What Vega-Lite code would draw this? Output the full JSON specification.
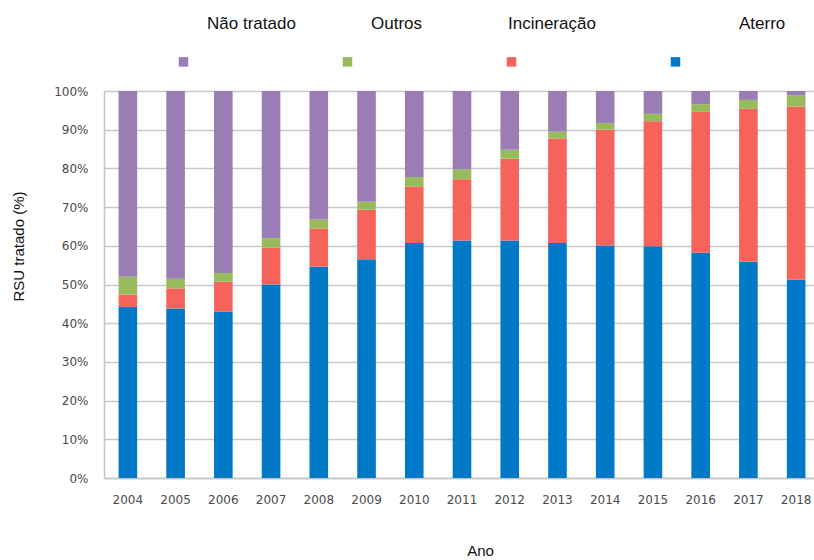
{
  "$schema": "https://vega.github.io/schema/vega-lite/v6.json",
  "autosize": {"type": "none"},
  "padding": {"left": 104, "top": 91, "right": 0, "bottom": 82},
  "width": 710,
  "height": 387,
  "background": "white",
  "config": {"view": {"stroke": null}, "font": "Liberation Sans"},
  "data": {"values": [
    {"ano": "2004", "tipo": "Aterro", "o": 1, "v": 44.2},
    {"ano": "2004", "tipo": "Incineração", "o": 2, "v": 3.2},
    {"ano": "2004", "tipo": "Outros", "o": 3, "v": 4.6},
    {"ano": "2004", "tipo": "Não tratado", "o": 4, "v": 48.0},
    {"ano": "2005", "tipo": "Aterro", "o": 1, "v": 43.8},
    {"ano": "2005", "tipo": "Incineração", "o": 2, "v": 5.2},
    {"ano": "2005", "tipo": "Outros", "o": 3, "v": 2.5},
    {"ano": "2005", "tipo": "Não tratado", "o": 4, "v": 48.5},
    {"ano": "2006", "tipo": "Aterro", "o": 1, "v": 43.0},
    {"ano": "2006", "tipo": "Incineração", "o": 2, "v": 7.7},
    {"ano": "2006", "tipo": "Outros", "o": 3, "v": 2.3},
    {"ano": "2006", "tipo": "Não tratado", "o": 4, "v": 47.0},
    {"ano": "2007", "tipo": "Aterro", "o": 1, "v": 50.0},
    {"ano": "2007", "tipo": "Incineração", "o": 2, "v": 9.5},
    {"ano": "2007", "tipo": "Outros", "o": 3, "v": 2.5},
    {"ano": "2007", "tipo": "Não tratado", "o": 4, "v": 38.0},
    {"ano": "2008", "tipo": "Aterro", "o": 1, "v": 54.6},
    {"ano": "2008", "tipo": "Incineração", "o": 2, "v": 9.9},
    {"ano": "2008", "tipo": "Outros", "o": 3, "v": 2.3},
    {"ano": "2008", "tipo": "Não tratado", "o": 4, "v": 33.2},
    {"ano": "2009", "tipo": "Aterro", "o": 1, "v": 56.5},
    {"ano": "2009", "tipo": "Incineração", "o": 2, "v": 12.8},
    {"ano": "2009", "tipo": "Outros", "o": 3, "v": 2.1},
    {"ano": "2009", "tipo": "Não tratado", "o": 4, "v": 28.6},
    {"ano": "2010", "tipo": "Aterro", "o": 1, "v": 60.7},
    {"ano": "2010", "tipo": "Incineração", "o": 2, "v": 14.6},
    {"ano": "2010", "tipo": "Outros", "o": 3, "v": 2.5},
    {"ano": "2010", "tipo": "Não tratado", "o": 4, "v": 22.2},
    {"ano": "2011", "tipo": "Aterro", "o": 1, "v": 61.4},
    {"ano": "2011", "tipo": "Incineração", "o": 2, "v": 15.8},
    {"ano": "2011", "tipo": "Outros", "o": 3, "v": 2.6},
    {"ano": "2011", "tipo": "Não tratado", "o": 4, "v": 20.2},
    {"ano": "2012", "tipo": "Aterro", "o": 1, "v": 61.4},
    {"ano": "2012", "tipo": "Incineração", "o": 2, "v": 21.1},
    {"ano": "2012", "tipo": "Outros", "o": 3, "v": 2.3},
    {"ano": "2012", "tipo": "Não tratado", "o": 4, "v": 15.2},
    {"ano": "2013", "tipo": "Aterro", "o": 1, "v": 60.7},
    {"ano": "2013", "tipo": "Incineração", "o": 2, "v": 27.0},
    {"ano": "2013", "tipo": "Outros", "o": 3, "v": 1.8},
    {"ano": "2013", "tipo": "Não tratado", "o": 4, "v": 10.5},
    {"ano": "2014", "tipo": "Aterro", "o": 1, "v": 60.1},
    {"ano": "2014", "tipo": "Incineração", "o": 2, "v": 29.9},
    {"ano": "2014", "tipo": "Outros", "o": 3, "v": 1.7},
    {"ano": "2014", "tipo": "Não tratado", "o": 4, "v": 8.3},
    {"ano": "2015", "tipo": "Aterro", "o": 1, "v": 59.9},
    {"ano": "2015", "tipo": "Incineração", "o": 2, "v": 32.3},
    {"ano": "2015", "tipo": "Outros", "o": 3, "v": 1.9},
    {"ano": "2015", "tipo": "Não tratado", "o": 4, "v": 5.9},
    {"ano": "2016", "tipo": "Aterro", "o": 1, "v": 58.2},
    {"ano": "2016", "tipo": "Incineração", "o": 2, "v": 36.4},
    {"ano": "2016", "tipo": "Outros", "o": 3, "v": 2.0},
    {"ano": "2016", "tipo": "Não tratado", "o": 4, "v": 3.4},
    {"ano": "2017", "tipo": "Aterro", "o": 1, "v": 55.9},
    {"ano": "2017", "tipo": "Incineração", "o": 2, "v": 39.5},
    {"ano": "2017", "tipo": "Outros", "o": 3, "v": 2.3},
    {"ano": "2017", "tipo": "Não tratado", "o": 4, "v": 2.3},
    {"ano": "2018", "tipo": "Aterro", "o": 1, "v": 51.2},
    {"ano": "2018", "tipo": "Incineração", "o": 2, "v": 44.8},
    {"ano": "2018", "tipo": "Outros", "o": 3, "v": 2.9},
    {"ano": "2018", "tipo": "Não tratado", "o": 4, "v": 1.1}
  ]},
  "mark": {"type": "bar"},
  "encoding": {
    "x": {
      "field": "ano", "type": "ordinal",
      "scale": {"range": [0, 716], "paddingInner": 0.61, "paddingOuter": 0.305},
      "axis": {
        "title": "Ano", "labelAngle": 0, "ticks": false, "grid": false,
        "domainColor": "#c4c4c4", "domainWidth": 1.5,
        "labelFont": "DejaVu Sans", "labelFontSize": 12, "labelColor": "#4a4a4a", "labelPadding": 16,
        "titleFont": "Liberation Sans", "titleFontSize": 15, "titleFontWeight": "normal", "titleColor": "#111",
        "titleX": 376, "titleY": 72, "titleBaseline": "middle", "titleAnchor": "start", "titleAlign": "center"
      }
    },
    "y": {
      "aggregate": "sum", "field": "v", "type": "quantitative", "stack": "normalize",
      "scale": {"domain": [0, 1], "nice": false},
      "axis": {
        "title": "RSU tratado (%)", "format": ".0%", "values": [0, 0.1, 0.2, 0.3, 0.4, 0.5, 0.6, 0.7, 0.8, 0.9, 1],
        "ticks": false, "grid": true, "gridColor": "#c8c8c8", "gridWidth": 1.5,
        "domainColor": "#c4c4c4", "domainWidth": 1.5,
        "labelFont": "DejaVu Sans", "labelFontSize": 12, "labelColor": "#4a4a4a", "labelPadding": 16,
        "titleFont": "Liberation Sans", "titleFontSize": 15, "titleFontWeight": "normal", "titleColor": "#111",
        "titleAngle": -90, "titleX": -86, "titleY": 155, "titleBaseline": "middle", "titleAlign": "center", "titleAnchor": "start"
      }
    },
    "color": {
      "field": "tipo", "type": "nominal",
      "scale": {"domain": ["Não tratado", "Outros", "Incineração", "Aterro"], "range": ["#9b7db6", "#97ba5b", "#f5635a", "#0079c6"]},
      "legend": {
        "title": null, "orient": "none", "legendX": 71, "legendY": -38, "direction": "horizontal", "columns": 4,
        "gridAlign": "all",
        "symbolType": "square", "symbolSize": 90, "symbolStrokeWidth": 0, "symbolOpacity": 1,
        "labelFont": "Liberation Sans", "labelFontSize": 17, "labelColor": "#111", "labelOffset": 15,
        "columnPadding": 43, "padding": 0,
        "encode": {"labels": {"update": {"dy": {"value": -38}, "dx": {"signal": "datum.label === 'Aterro' ? 40 : (datum.label === 'Incineração' ? -27 : 0)"}}}}
      }
    },
    "order": {"field": "o", "type": "quantitative"}
  }
}
